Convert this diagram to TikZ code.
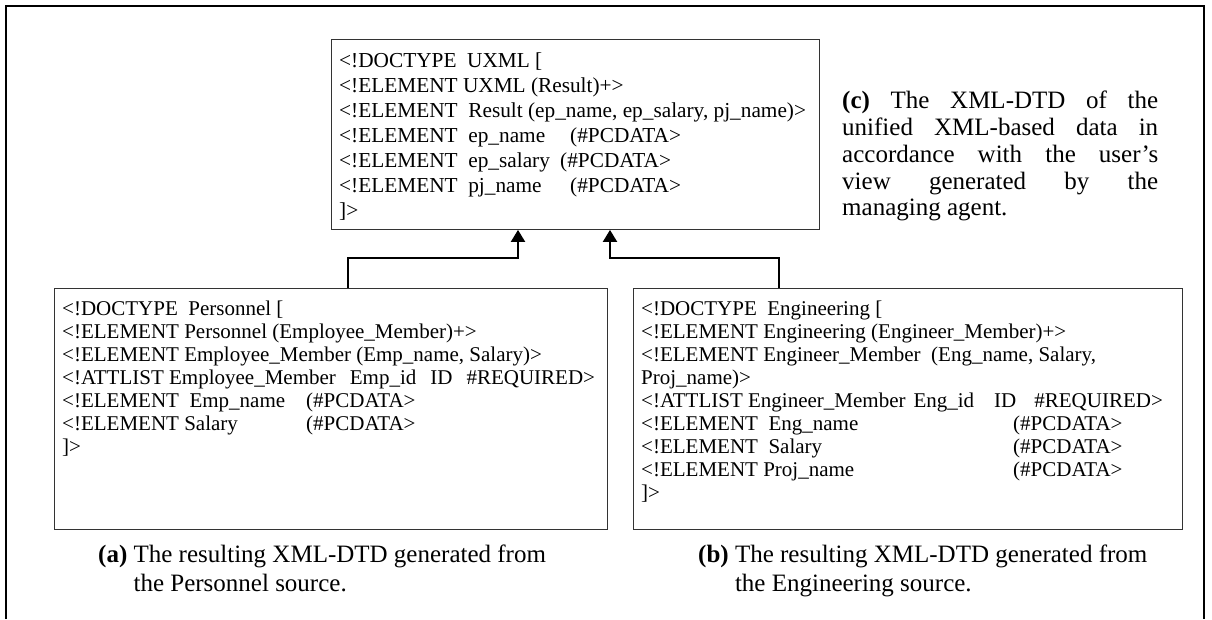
\documentclass[tikz,border=0pt]{standalone}
\usepackage{fontspec}
\setmainfont{Liberation Serif}
\usetikzlibrary{arrows.meta}
\begin{document}
\begin{tikzpicture}[x=1pt,y=-1pt,
  frame/.style={line width=2.4pt, black},
  dtdbox/.style={draw=black!80, line width=0.9pt, anchor=north west, inner sep=0pt},
  dtdtext/.style={anchor=north west, inner sep=0pt, align=left},
  conn/.style={line width=2pt, -{Triangle[length=12pt,width=14pt]}},
  capt/.style={anchor=north west, inner sep=0pt, align=left, font=\fontsize{25}{28.5}\selectfont},
]
\useasboundingbox (0,0) rectangle (1212,619);
\draw[frame] (6,619) -- (6,6) -- (1204,6) -- (1204,619);

% top box
\node[dtdbox, minimum width=488, minimum height=190] (uxml) at (331,39) {};
\node[dtdtext, font=\fontsize{21.3}{25}\selectfont] (uxmltxt) at (339,53) {%
<!DOCTYPE\ \ UXML [\\
<!ELEMENT UXML (Result)+>\\
<!ELEMENT\ \ Result (ep\_name, ep\_salary, pj\_name)>\\
\makebox[231pt][l]{<!ELEMENT\ \ ep\_name}(\#PCDATA>\\
\makebox[221pt][l]{<!ELEMENT\ \ ep\_salary}(\#PCDATA>\\
\makebox[231pt][l]{<!ELEMENT\ \ pj\_name}(\#PCDATA>\\
]>};

% caption c
\node[anchor=north west, inner sep=0pt, text width=316, align=justify,
      font=\fontsize{25}{26.75}\selectfont] (capc) at (842,91) {%
\textbf{(c)} The XML-DTD of the\linebreak unified XML-based data in\linebreak
accordance with the user’s\linebreak view generated by the\linebreak managing agent.};

% left box
\node[dtdbox, minimum width=553, minimum height=241] (pers) at (54,288) {};
\node[dtdtext, font=\fontsize{21}{23}\selectfont] (perstxt) at (62,301) {%
<!DOCTYPE\ \ Personnel [\\
<!ELEMENT Personnel (Employee\_Member)+>\\
<!ELEMENT Employee\_Member (Emp\_name, Salary)>\\
<!ATTLIST Employee\_Member\hspace{14pt}Emp\_id\hspace{14pt}ID\hspace{14pt}\#REQUIRED>\\
\makebox[244pt][l]{<!ELEMENT\ \ Emp\_name}(\#PCDATA>\\
\makebox[244pt][l]{<!ELEMENT Salary}(\#PCDATA>\\
]>};

% right box
\node[dtdbox, minimum width=549, minimum height=241] (eng) at (633,288) {};
\node[dtdtext, font=\fontsize{21}{23}\selectfont] (engtxt) at (641,301) {%
<!DOCTYPE\ \ Engineering [\\
<!ELEMENT Engineering (Engineer\_Member)+>\\
<!ELEMENT Engineer\_Member\ \ (Eng\_name, Salary,\\
Proj\_name)>\\
<!ATTLIST Engineer\_Member\hspace{8pt}Eng\_id\hspace{20pt}ID\hspace{18pt}\#REQUIRED>\\
\makebox[372pt][l]{<!ELEMENT\ \ Eng\_name}(\#PCDATA>\\
\makebox[372pt][l]{<!ELEMENT\ \ Salary}(\#PCDATA>\\
\makebox[372pt][l]{<!ELEMENT Proj\_name}(\#PCDATA>\\
]>};

% connectors
\draw[conn] (pers.north -| 348,0) -- (348,258) -| (uxml.south -| 518,0);
\draw[conn] (eng.north -| 779,0) -- (779,258) -| (uxml.south -| 610,0);

% captions a, b
\node[capt] (capa) at (98,545) {\textbf{(a)} The resulting XML-DTD generated from\\
\hphantom{\textbf{(a)}\ }the Personnel source.};
\node[capt] (capb) at (698,545) {\textbf{(b)} The resulting XML-DTD generated from\\
\hphantom{\textbf{(b)}\ }the Engineering source.};
\end{tikzpicture}
\end{document}
